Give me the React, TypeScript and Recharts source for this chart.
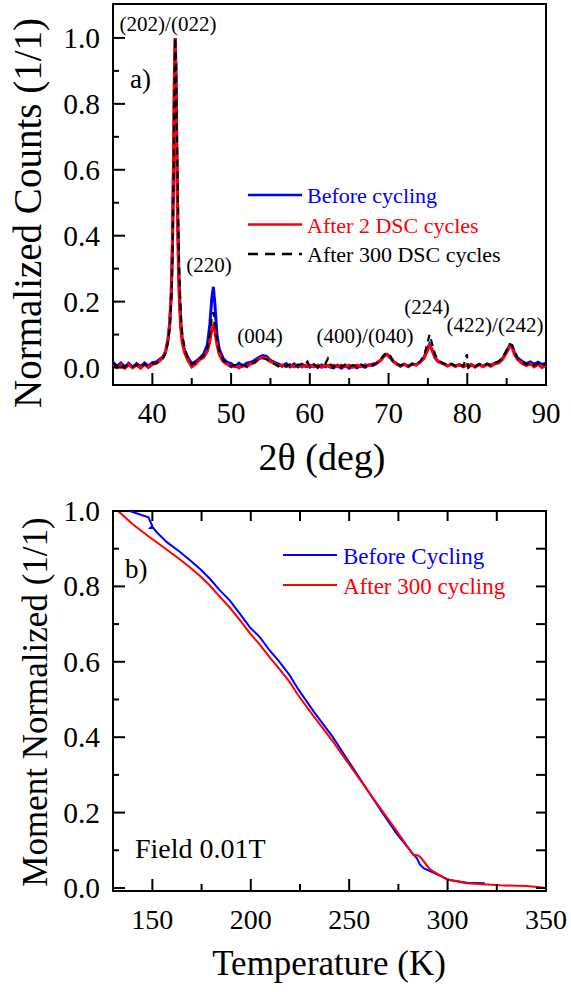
import React from 'react';
import { LineChart, Line, XAxis, YAxis, ReferenceArea } from 'recharts';

const SERIF = '"Liberation Serif", "Times New Roman", Times, serif';

// ---- panel a: XRD patterns ----
const twoTheta = [
  35, 35.5, 36, 36.5, 37, 37.5, 38, 38.5, 39, 39.5, 40, 40.5, 41, 41.4, 41.7, 42.0, 42.2, 42.4, 42.55, 42.7,
  42.8, 42.9, 43.0, 43.1, 43.25, 43.4, 43.6, 43.8, 44.1, 44.5, 45.0, 45.5, 46.0, 46.5, 47.0, 47.3, 47.55, 47.75, 47.95, 48.2,
  48.5, 49.0, 49.5, 50, 50.5, 51, 51.5, 52, 52.5, 53, 53.5, 54, 54.5, 55, 55.5, 56, 56.5, 57, 57.5, 58,
  58.5, 59, 59.5, 59.7, 60, 60.5, 61, 61.5, 62, 62.3, 62.6, 63, 63.5, 64, 64.5, 65, 65.5, 66, 66.5, 67,
  67.5, 68, 68.5, 69, 69.4, 69.8, 70.2, 70.6, 71, 71.5, 72, 72.5, 73, 73.5, 74, 74.5, 74.9, 75.2, 75.5, 75.9,
  76.3, 77, 77.5, 78, 78.5, 79, 79.5, 79.95, 80.15, 80.5, 81, 81.5, 82, 82.5, 83, 83.5, 84, 84.5, 85, 85.4,
  85.7, 86.0, 86.4, 87, 87.5, 88, 88.5, 89, 89.5, 90,
];
const beforeCycling = [
  0.016, 0.004, 0.014, 0.002, 0.013, 0.001, 0.012, 0.003, 0.014, 0.004, 0.015, 0.017, 0.026, 0.034, 0.05, 0.085, 0.13, 0.22, 0.36, 0.62,
  0.86, 1.0, 0.9, 0.68, 0.42, 0.25, 0.14, 0.085, 0.05, 0.03, 0.012, 0.018, 0.028, 0.04, 0.07, 0.13, 0.21, 0.245, 0.19, 0.1,
  0.055, 0.027, 0.016, 0.012, 0.003, 0.013, 0.004, 0.013, 0.016, 0.022, 0.03, 0.036, 0.034, 0.022, 0.016, 0.011, 0.004, 0.012, 0.002, 0.011,
  0.002, 0.01, 0.003, 0.006, 0.001, 0.009, 0.0, 0.008, 0.002, 0.006, 0.001, -0.001, 0.007, -0.002, 0.006, -0.002, 0.005, -0.001, 0.006, 0.001,
  0.008, 0.006, 0.013, 0.022, 0.034, 0.04, 0.03, 0.018, 0.012, 0.004, 0.01, 0.003, 0.01, 0.008, 0.017, 0.03, 0.055, 0.07, 0.055, 0.03,
  0.018, 0.012, 0.005, 0.01, 0.004, 0.009, 0.003, 0.008, 0.002, 0.009, 0.003, 0.01, 0.004, 0.011, 0.007, 0.013, 0.017, 0.028, 0.05, 0.068,
  0.065, 0.045, 0.028, 0.018, 0.012, 0.017, 0.01, 0.016, 0.009, 0.014,
];
const after2Cycles = [
  0.011, 0.0, 0.009, -0.002, 0.009, -0.001, 0.008, -0.002, 0.01, 0.0, 0.01, 0.013, 0.022, 0.033, 0.05, 0.088, 0.135, 0.23, 0.38, 0.66,
  0.9, 1.0, 0.86, 0.62, 0.38, 0.22, 0.12, 0.075, 0.045, 0.022, 0.002, 0.01, 0.024, 0.03, 0.05, 0.08, 0.115, 0.127, 0.11, 0.07,
  0.04, 0.018, 0.01, 0.002, 0.006, -0.001, 0.007, 0.002, 0.011, 0.015, 0.026, 0.03, 0.029, 0.018, 0.013, 0.005, 0.008, 0.003, 0.008, 0.002,
  0.008, 0.002, 0.007, 0.003, 0.007, 0.002, 0.007, 0.001, 0.007, 0.006, 0.003, 0.007, 0.002, 0.007, 0.002, 0.007, 0.001, 0.007, 0.003, 0.008,
  0.006, 0.011, 0.013, 0.022, 0.034, 0.04, 0.032, 0.019, 0.011, 0.005, 0.01, 0.003, 0.011, 0.008, 0.016, 0.028, 0.05, 0.066, 0.056, 0.032,
  0.018, 0.01, 0.005, 0.01, 0.003, 0.009, 0.002, 0.008, 0.002, 0.009, 0.001, 0.009, 0.002, 0.009, 0.004, 0.011, 0.014, 0.025, 0.046, 0.064,
  0.06, 0.04, 0.024, 0.012, 0.006, 0.011, 0.002, 0.01, 0.0, 0.008,
];
const after300Cycles = [
  0.013, 0.003, 0.011, 0.001, 0.01, 0.002, 0.009, 0.001, 0.011, 0.003, 0.011, 0.013, 0.02, 0.03, 0.045, 0.08, 0.12, 0.2, 0.33, 0.58,
  0.82, 1.0, 0.93, 0.74, 0.5, 0.3, 0.17, 0.1, 0.06, 0.03, 0.01, 0.016, 0.027, 0.036, 0.06, 0.1, 0.15, 0.168, 0.14, 0.085,
  0.05, 0.022, 0.013, 0.004, 0.008, 0.003, 0.008, 0.004, 0.012, 0.016, 0.025, 0.028, 0.025, 0.016, 0.011, 0.004, 0.009, 0.004, 0.009, 0.003,
  0.008, 0.01, 0.012, 0.018, 0.003, 0.009, 0.002, 0.009, 0.012, 0.027, 0.01, 0.002, 0.009, 0.002, 0.009, 0.002, 0.008, 0.002, 0.009, 0.003,
  0.01, 0.008, 0.014, 0.025, 0.038, 0.046, 0.035, 0.02, 0.012, 0.006, 0.011, 0.004, 0.012, 0.009, 0.018, 0.035, 0.07, 0.1, 0.075, 0.04,
  0.022, 0.012, 0.006, 0.011, 0.005, 0.01, 0.004, 0.04, 0.0, 0.009, 0.003, 0.01, 0.003, 0.011, 0.006, 0.013, 0.019, 0.03, 0.052, 0.071,
  0.068, 0.048, 0.028, 0.016, 0.009, 0.014, 0.006, 0.013, 0.005, 0.011,
];

const xrdSeries = [
  { key: 'before', name: 'Before cycling', color: '#0000ff', dash: undefined as string | undefined, width: 3 },
  { key: 'after2', name: 'After 2 DSC cycles', color: '#ff0000', dash: undefined as string | undefined, width: 3 },
  { key: 'after300', name: 'After 300 DSC cycles', color: '#000000', dash: '7 5', width: 2.2 },
];

const xrdPeaks = ['(202)/(022)', '(220)', '(004)', '(400)/(040)', '(224)', '(422)/(242)'];

const xrdXTicks = [40, 45, 50, 55, 60, 65, 70, 75, 80, 85, 90];
const normTicks = [0, 0.1, 0.2, 0.3, 0.4, 0.5, 0.6, 0.7, 0.8, 0.9, 1.0];

// ---- panel b: moment vs temperature ----
const beforeTemp = [
  138.5, 143, 148, 150, 149, 150.5, 152, 157.2, 163.9, 169, 174.1, 179.1, 184.2, 189.3, 194.4, 199.5, 204.5, 209.6,
  214.7, 219.8, 224, 232, 241.7, 248.6, 257, 265.5, 274, 282.5, 284.5, 286, 288, 292.7, 301, 310, 318.9,
];
const beforeMoment = [
  1.0, 0.992, 0.983, 0.96, 0.955, 0.955, 0.945, 0.918, 0.892, 0.87, 0.847, 0.821, 0.79, 0.763, 0.728, 0.692, 0.666, 0.63,
  0.599, 0.564, 0.528, 0.468, 0.4, 0.345, 0.278, 0.21, 0.145, 0.09, 0.078, 0.062, 0.052, 0.041, 0.021, 0.014, 0.0125,
];
const afterTemp = [
  132.6, 140, 148, 157.2, 163.9, 169, 174.1, 179.1, 184.2, 189.3, 194.4, 199.5, 204.5, 209.6, 214.7, 219.8, 224, 232,
  241.7, 248.6, 257, 265.5, 274, 282.5, 285, 286.5, 290.9, 299.4, 309.6, 326.5, 340, 348.5,
];
const afterMoment = [
  1.0, 0.965, 0.933, 0.898, 0.872, 0.851, 0.828, 0.803, 0.773, 0.744, 0.711, 0.676, 0.646, 0.612, 0.58, 0.546, 0.512, 0.455,
  0.389, 0.338, 0.276, 0.214, 0.152, 0.088, 0.086, 0.08, 0.05, 0.023, 0.0125, 0.007, 0.005, 0.001,
];

const mtSeries = [
  { name: 'Before Cycling', color: '#0000ff' },
  { name: 'After 300 cycling', color: '#ff0000' },
];

const tempTicks = [150, 175, 200, 225, 250, 275, 300, 325, 350];

const xrdRows = twoTheta.map((t, i) => ({
  t,
  before: beforeCycling[i],
  after2: after2Cycles[i],
  after300: after300Cycles[i],
}));
const mtBefore = beforeTemp.map((t, i) => ({ t, m: beforeMoment[i] }));
const mtAfter = afterTemp.map((t, i) => ({ t, m: afterMoment[i] }));

const XTick = (props: any) => {
  const { x, y, payload, every, topY, fontSize } = props;
  const v = payload.value;
  const major = v % every === 0;
  return (
    <g>
      <line x1={x} x2={x} y1={y} y2={y - (major ? 12 : 7)} stroke="#000" strokeWidth={2} />
      {topY !== undefined && <line x1={x} x2={x} y1={topY} y2={topY + 10} stroke="#000" strokeWidth={2} />}
      {major && (
        <text x={x} y={y + 38} textAnchor="middle" fontSize={fontSize} fontFamily={SERIF} fill="#000">
          {v}
        </text>
      )}
    </g>
  );
};

const YTick = (props: any) => {
  const { x, y, payload, rightX, fontSize } = props;
  const v = payload.value;
  const major = Math.round(v * 10) % 2 === 0;
  return (
    <g>
      <line x1={x} x2={x + (major ? 12 : 6)} y1={y} y2={y} stroke="#000" strokeWidth={2} />
      {rightX !== undefined && <line x1={rightX} x2={rightX - 10} y1={y} y2={y} stroke="#000" strokeWidth={2} />}
      {major && (
        <text x={x - 13} y={y + 10} textAnchor="end" fontSize={fontSize} fontFamily={SERIF} fill="#000">
          {v.toFixed(1)}
        </text>
      )}
    </g>
  );
};

export default function App() {
  return (
    <div style={{ position: 'absolute', left: 0, top: 0, width: 571, height: 992, background: '#fff' }}>
      <div style={{ position: 'absolute', left: 0, top: 0 }}>
        <LineChart width={571} height={490} data={xrdRows} margin={{ top: 4, right: 25, bottom: 65, left: 53 }}>
          <XAxis
            dataKey="t"
            type="number"
            domain={[35, 90]}
            ticks={xrdXTicks}
            interval={0}
            height={40}
            axisLine={false}
            tickLine={false}
            tickSize={0}
            tickMargin={0}
            tick={(p: any) => <XTick {...p} every={10} fontSize={29} />}
          />
          <YAxis
            type="number"
            domain={[-0.053, 1.103]}
            ticks={normTicks}
            interval={0}
            width={60}
            axisLine={false}
            tickLine={false}
            tickSize={0}
            tickMargin={0}
            tick={(p: any) => <YTick {...p} fontSize={29.5} />}
          />
          <ReferenceArea x1={35} x2={90} y1={-0.053} y2={1.103} fill="none" stroke="#000" strokeWidth={2} />
          {xrdSeries.map((s) => (
            <Line
              key={s.key}
              dataKey={s.key}
              type="linear"
              stroke={s.color}
              strokeWidth={s.width}
              strokeDasharray={s.dash}
              dot={false}
              isAnimationActive={false}
            />
          ))}
        </LineChart>
      </div>

      <div style={{ position: 'absolute', left: 0, top: 490 }}>
        <LineChart width={571} height={502} margin={{ top: 21, right: 25, bottom: 61, left: 53 }}>
          <XAxis
            dataKey="t"
            type="number"
            domain={[130, 350]}
            ticks={tempTicks}
            interval={0}
            height={40}
            axisLine={false}
            tickLine={false}
            tickSize={0}
            tickMargin={0}
            tick={(p: any) => <XTick {...p} every={50} topY={21} fontSize={28} />}
          />
          <YAxis
            type="number"
            domain={[-0.008, 1.0]}
            ticks={normTicks}
            interval={0}
            width={60}
            axisLine={false}
            tickLine={false}
            tickSize={0}
            tickMargin={0}
            tick={(p: any) => <YTick {...p} rightX={546} fontSize={29.5} />}
          />
          <ReferenceArea x1={130} x2={350} y1={-0.008} y2={1.0} fill="none" stroke="#000" strokeWidth={2} />
          <Line data={mtBefore} dataKey="m" type="linear" stroke={mtSeries[0].color} strokeWidth={2} dot={false} isAnimationActive={false} />
          <Line data={mtAfter} dataKey="m" type="linear" stroke={mtSeries[1].color} strokeWidth={2} dot={false} isAnimationActive={false} />
        </LineChart>
      </div>

      <svg width={571} height={992} style={{ position: 'absolute', left: 0, top: 0, pointerEvents: 'none' }} fontFamily={SERIF}>
        {/* panel a texts */}
        <text x={41} y={213} fontSize={39} textAnchor="middle" transform="rotate(-90 41 213)">Normalized Counts (1/1)</text>
        <text x={322} y={470} fontSize={38} textAnchor="middle">2θ (deg)</text>
        <text x={130} y={88} fontSize={27}>a)</text>
        <g fontSize={21} textAnchor="middle">
          <text x={168} y={31}>{xrdPeaks[0]}</text>
          <text x={209} y={272}>{xrdPeaks[1]}</text>
          <text x={260} y={343}>{xrdPeaks[2]}</text>
          <text x={365} y={343}>{xrdPeaks[3]}</text>
          <text x={427} y={314}>{xrdPeaks[4]}</text>
          <text x={495} y={332}>{xrdPeaks[5]}</text>
        </g>
        {xrdSeries.map((s, i) => {
          const ly = 195 + i * 29.5;
          return (
            <g key={s.key}>
              <line x1={248} x2={302} y1={ly} y2={ly} stroke={s.color} strokeWidth={2.5} strokeDasharray={s.dash ? '10 7' : undefined} />
              <text x={307} y={ly + 8} fontSize={22} fill={s.color}>{s.name}</text>
            </g>
          );
        })}

        {/* panel b texts */}
        <text x={47} y={702} fontSize={35} textAnchor="middle" transform="rotate(-90 47 702)">Moment Normalized (1/1)</text>
        <text x={329} y={975} fontSize={35} textAnchor="middle">Temperature (K)</text>
        <text x={125} y={578} fontSize={27}>b)</text>
        <text x={135} y={858} fontSize={28}>Field 0.01T</text>
        {mtSeries.map((s, i) => {
          const ly = 555 + i * 30;
          return (
            <g key={s.name}>
              <line x1={283} x2={337} y1={ly} y2={ly} stroke={s.color} strokeWidth={2} />
              <text x={343} y={ly + 9} fontSize={23} fill={s.color}>{s.name}</text>
            </g>
          );
        })}
      </svg>
    </div>
  );
}
